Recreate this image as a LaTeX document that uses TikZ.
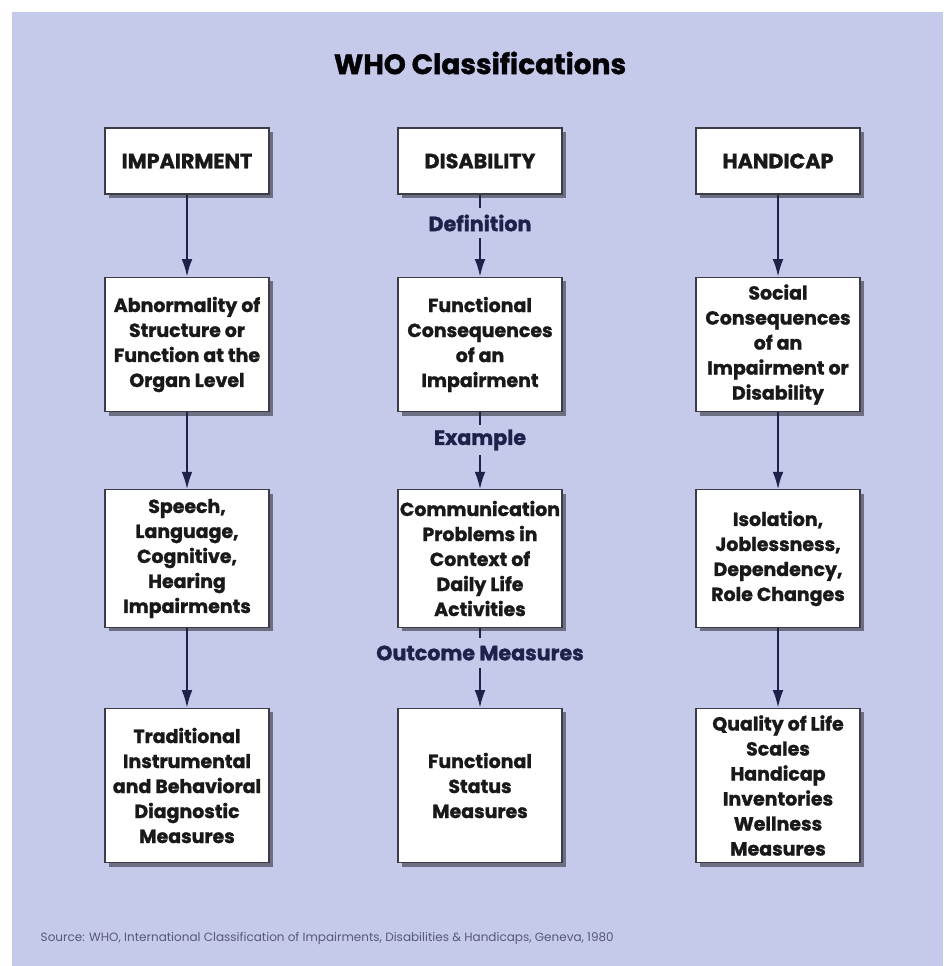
\documentclass[tikz,border=0pt]{standalone}
\usepackage{fontspec}
\setmainfont{Poppins}[BoldFeatures={FakeBold=1.3}]
\usetikzlibrary{shadows,arrows.meta}
\definecolor{lavender}{RGB}{197,201,234}
\definecolor{navy}{RGB}{30,34,74}
\definecolor{boxline}{RGB}{60,60,72}
\definecolor{shade}{RGB}{100,101,118}
\begin{document}
\begin{tikzpicture}[x=0.75pt, y=-0.75pt,
  box/.style={draw=boxline, line width=0.9pt, fill=white, minimum width=123pt, inner xsep=1pt, align=center, text=black!90, font=\fontsize{14.2}{18.75}\selectfont\bfseries, drop shadow={shadow xshift=3pt, shadow yshift=-3pt, fill=shade, opacity=0.9}},
  head/.style={box, minimum height=49.5pt, font=\fontsize{15.5}{18.75}\selectfont\bfseries},
  lbl/.style={inner sep=0pt, minimum height=22.5pt, text=navy, font=\fontsize{15.5}{18}\selectfont\bfseries},
  link/.style={navy, line width=1.4pt},
  >={Latex[length=13pt, width=8pt]}]

\fill[white] (0,0) rectangle (943,966);
\fill[lavender] (12,12) rectangle (943,966);

\node[lbl, text=black!90!navy, font=\fontsize{21}{24}\selectfont\bfseries] (t) at (480,63) {WHO Classifications};

\node[head] (i) at (187,161) {IMPAIRMENT};
\node[head] (d) at (480,161) {DISABILITY};
\node[head] (h) at (778,161) {HANDICAP};

\node[box, minimum height=101pt] (i1) at (187,344.5) {Abnormality of\\Structure or\\Function at the\\Organ Level};
\node[box, minimum height=101pt] (d1) at (480,344.5) {Functional\\Consequences\\of an\\Impairment};
\node[box, minimum height=101pt] (h1) at (778,344.5) {Social\\Consequences\\of an\\Impairment or\\Disability};

\node[box, minimum height=103pt] (i2) at (187,558.5) {Speech,\\Language,\\Cognitive,\\Hearing\\Impairments};
\node[box, minimum height=103pt] (d2) at (480,558.5) {Communication\\Problems in\\Context of\\Daily Life\\Activities};
\node[box, minimum height=103pt] (h2) at (778,558.5) {Isolation,\\Joblessness,\\Dependency,\\Role Changes};

\node[box, minimum height=116pt] (i3) at (187,785.5) {Traditional\\Instrumental\\and Behavioral\\Diagnostic\\Measures};
\node[box, minimum height=116pt] (d3) at (480,785.5) {Functional\\Status\\Measures};
\node[box, minimum height=116pt] (h3) at (778,785.5) {Quality of Life\\Scales\\Handicap\\Inventories\\Wellness\\Measures};

\node[lbl] (def) at (480,223) {Definition};
\node[lbl] (ex) at (480,440) {Example};
\node[lbl] (om) at (480,653) {Outcome Measures};

\draw[link, ->] (i) -- (i1);
\draw[link, ->] (i1) -- (i2);
\draw[link, ->] (i2) -- (i3);
\draw[link] (d) -- (def);
\draw[link, ->] (def) -- (d1);
\draw[link] (d1) -- (ex);
\draw[link, ->] (ex) -- (d2);
\draw[link] (d2) -- (om);
\draw[link, ->] (om) -- (d3);
\draw[link, ->] (h) -- (h1);
\draw[link, ->] (h1) -- (h2);
\draw[link, ->] (h2) -- (h3);

\node[anchor=west, text=navy!75, font=\fontsize{9}{11}\selectfont] (src) at (36,938) {Source: WHO, International Classification of Impairments, Disabilities \& Handicaps, Geneva, 1980};
\end{tikzpicture}
\end{document}
